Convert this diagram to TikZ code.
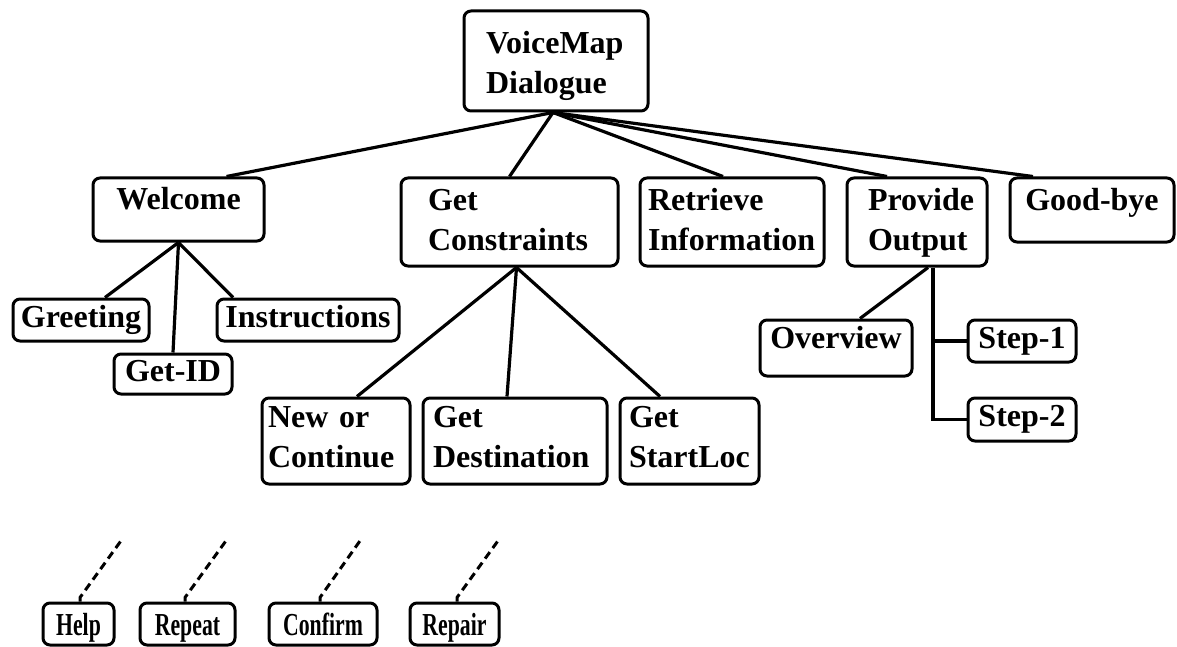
\documentclass[tikz,border=0pt]{standalone}
\usepackage{fontspec}
\setmainfont{Liberation Serif}
\newfontfamily\narrowfont{Liberation Serif}[FakeStretch=0.68]
\usetikzlibrary{calc}
\begin{document}
\begin{tikzpicture}[x=1pt,y=-1pt,
  every node/.style={font=\fontsize{32}{40}\selectfont\bfseries},
  box/.style={draw, line width=3pt, rounded corners=7pt, inner sep=0pt, text height=22pt},
  sz/.style 2 args={minimum width=#1pt, minimum height=#2pt},
  narrow/.style={font=\narrowfont\fontsize{32}{40}\selectfont\bfseries},
  link/.style={line width=3.2pt},
  aux/.style={line width=3pt, dash pattern=on 8pt off 5pt}
]
\fill[white] (0,0) rectangle (1177,647);
\useasboundingbox (0,0) rectangle (1177,647);

% root
\node[box, sz={184}{100}, text width=140pt, align=left, text depth=36pt] (vm) at (556,61) {VoiceMap\\Dialogue};

% first level
\node[box, sz={171}{63}, text depth=22pt] (wel) at (178.5,209.5) {Welcome};
\node[box, sz={217}{88}, text width=163pt, align=left, text depth=46pt] (gc) at (509.5,222) {Get\\Constraints};
\node[box, sz={184}{88}, text width=168pt, align=left, text depth=46pt] (ri) at (732,222) {Retrieve\\Information};
\node[box, sz={140}{88}, text width=98pt, align=left, text depth=46pt] (po) at (917,222) {Provide\\Output};
\node[box, sz={164}{64}, text depth=22pt] (gb) at (1092,210) {Good-bye};

% welcome subtasks
\node[box, sz={136}{42}, text depth=8pt] (gr) at (81,320) {Greeting};
\node[box, sz={118}{40}, text depth=8pt] (gid) at (173,374) {Get-ID};
\node[box, sz={182}{42}, text depth=8pt] (ins) at (308,320) {Instructions};

% constraint subtasks
\node[box, sz={148}{86}, text width=136pt, align=left, text depth=50pt] (noc) at (336,441) {New or\\Continue};
\node[box, sz={184}{86}, text width=164pt, align=left, text depth=50pt] (gd) at (515,441) {Get\\Destination};
\node[box, sz={139}{86}, text width=121pt, align=left, text depth=50pt] (gs) at (689.5,441) {Get\\StartLoc};

% output subtasks
\node[box, sz={152}{56}, text depth=22pt] (ov) at (836,348) {Overview};
\node[box, sz={108}{42}, text depth=8pt] (s1) at (1022,341) {Step-1};
\node[box, sz={108}{43}, text depth=8pt] (s2) at (1022,419.5) {Step-2};

% generic subdialogues
\node[box, narrow, sz={71}{42}, text depth=0pt] (help) at (78.5,624) {Help};
\node[box, narrow, sz={95}{42}, text depth=0pt] (rep) at (187.5,624) {Repeat};
\node[box, narrow, sz={108}{42}, text depth=0pt] (conf) at (323,624) {Confirm};
\node[box, narrow, sz={89}{42}, text depth=0pt] (repr) at (454.5,624) {Repair};

% root links
\draw[link] ([xshift=-3pt]vm.south) -- ([xshift=48pt]wel.north);
\draw[link] ([xshift=-3pt]vm.south) -- (gc.north);
\draw[link] ([xshift=-3pt]vm.south) -- ([xshift=-9pt]ri.north);
\draw[link] ([xshift=-3pt]vm.south) -- ([xshift=-30pt]po.north);
\draw[link] ([xshift=-3pt]vm.south) -- ([xshift=-59pt]gb.north);

% welcome links
\draw[link] (wel.south) -- ([xshift=24pt]gr.north);
\draw[link] (wel.south) -- (gid.north);
\draw[link] (wel.south) -- ([xshift=-75pt]ins.north);

% constraint links
\draw[link] ([xshift=7pt]gc.south) -- ([xshift=21pt]noc.north);
\draw[link] ([xshift=7pt]gc.south) -- ([xshift=-8pt]gd.north);
\draw[link] ([xshift=7pt]gc.south) -- ([xshift=-29.5pt]gs.north);

% output links
\draw[link] ([xshift=11pt]po.south) -- ([xshift=24pt]ov.north);
\draw[link] ([xshift=16pt]po.south) |- (s2.west);
\draw[link] ([xshift=16pt]po.south |- s1.west) -- (s1.west);

% dangling attachments
\coordinate (helpend) at (123,538);
\coordinate (repend) at (228,538);
\coordinate (confend) at (362,538);
\coordinate (reprend) at (500,538);
\draw[aux] ([xshift=1.5pt]help.north) -- ++(0,-4) -- (helpend);
\draw[aux] ([xshift=-2.5pt]rep.north) -- ++(0,-4) -- (repend);
\draw[aux] ([xshift=-3pt]conf.north) -- ++(0,-4) -- (confend);
\draw[aux] ([xshift=2.5pt]repr.north) -- ++(0,-4) -- (reprend);
\end{tikzpicture}
\end{document}
